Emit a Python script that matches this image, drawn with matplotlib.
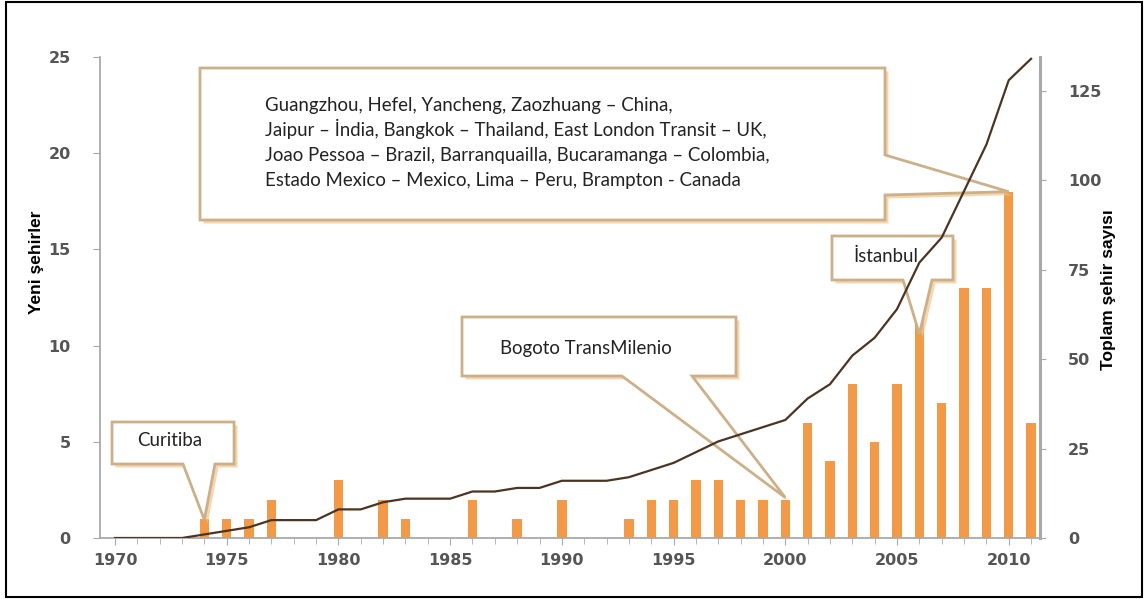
import matplotlib
matplotlib.use("Agg")
import matplotlib.pyplot as plt
import matplotlib.patheffects as pe
from matplotlib.patches import Polygon, Rectangle
from matplotlib.ticker import MultipleLocator

# yearly new BRT cities (bars, left axis)
bar_years = [1974, 1975, 1976, 1977, 1980, 1982, 1983, 1986, 1988, 1990,
             1993, 1994, 1995, 1996, 1997, 1998, 1999, 2000, 2001, 2002,
             2003, 2004, 2005, 2006, 2007, 2008, 2009, 2010, 2011]
new_cities = [1, 1, 1, 2, 3, 2, 1, 2, 1, 2,
              1, 2, 2, 3, 3, 2, 2, 2, 6, 4,
              8, 5, 8, 13, 7, 13, 13, 18, 6]

# cumulative total (line, right axis)
line_years = list(range(1970, 2012))
total_cities = [0, 0, 0, 0, 1, 2, 3, 5, 5, 5,
                8, 8, 10, 11, 11, 11, 13, 13, 14, 14,
                16, 16, 16, 17, 19, 21, 24, 27, 29, 31,
                33, 39, 43, 51, 56, 64, 77, 84, 97, 110,
                128, 134]

note_lines = ["Guangzhou, Hefel, Yancheng, Zaozhuang – China,",
              "Jaipur – İndia, Bangkok – Thailand, East London Transit – UK,",
              "Joao Pessoa – Brazil, Barranquailla, Bucaramanga – Colombia,",
              "Estado Mexico – Mexico, Lima – Peru, Brampton - Canada"]

BAR_COLOR = "#f29a48"
LINE_COLOR = "#4b3422"
EDGE = "#cbb08a"
SPINE = "#a9a9a9"
TICK_TXT = "#555555"
NOTE_FONT = ["Lato", "DejaVu Sans"]
LABEL_FONT = ["Liberation Sans Narrow", "Liberation Sans", "DejaVu Sans"]
NOTE_SIZE = 13.4

fig = plt.figure(figsize=(11.47, 5.99), dpi=100)
fig.patch.set_facecolor("white")
ax = fig.add_axes([100 / 1147, 61 / 599, 940 / 1147, 481 / 599])
ax2 = ax.twinx()

ax.bar(bar_years, new_cities, width=0.42, color=BAR_COLOR, zorder=2)
ax2.plot(line_years, total_cities, color=LINE_COLOR, linewidth=1.6, zorder=5)

ax.set_xlim(1969.33, 2011.4)
ax.set_ylim(0, 25)
ax2.set_ylim(0, 134.5)
ax.xaxis.set_major_locator(MultipleLocator(5))
ax.xaxis.set_minor_locator(MultipleLocator(1))
ax.yaxis.set_major_locator(MultipleLocator(5))
ax2.yaxis.set_major_locator(MultipleLocator(25))

for a in (ax, ax2):
    for s in a.spines.values():
        s.set_visible(False)
ax.spines["left"].set_visible(True)
ax.spines["left"].set_color(SPINE)
ax.spines["left"].set_linewidth(1.3)
ax.spines["bottom"].set_visible(True)
ax.spines["bottom"].set_color(SPINE)
ax.spines["bottom"].set_linewidth(1.3)
ax2.spines["right"].set_visible(True)
ax2.spines["right"].set_color(SPINE)
ax2.spines["right"].set_linewidth(2.2)

ax.tick_params(axis="x", which="major", length=5, color=SPINE, labelsize=11.5,
               labelcolor=TICK_TXT, pad=6)
ax.tick_params(axis="x", which="minor", length=4, color=SPINE)
ax.tick_params(axis="y", length=5, color=SPINE, labelsize=11.5,
               labelcolor=TICK_TXT, pad=16)
ax2.tick_params(axis="y", length=4, color=SPINE, labelsize=11.5,
                labelcolor=TICK_TXT, pad=16)
for lab in ax.get_xticklabels() + ax.get_yticklabels() + ax2.get_yticklabels():
    lab.set_fontweight("bold")

fig.text(36 / 1147, 1 - 262 / 599, "Yeni şehirler", rotation=90, ha="center",
         va="center", fontsize=12.5, fontweight="bold", family=LABEL_FONT)
fig.text(1108 / 1147, 1 - 290 / 599, "Toplam şehir sayısı", rotation=90,
         ha="center", va="center", fontsize=12.5, fontweight="bold",
         family=LABEL_FONT)


def to_axes(x, y):
    disp = ax.transData.transform((x, y))
    return tuple(ax.transAxes.inverted().transform(disp))


def px(x, y):
    # reference pixel -> axes fraction
    return (x - 100) / 940, (538 - y) / 481


def callout(x0, y0, x1, y1, side, b0, b1, tip):
    # box (x0,y0)-(x1,y1) in axes fraction, wedge on 'bottom' or 'right'
    tx, ty = to_axes(*tip)
    if side == "bottom":
        pts = [(x0, y0), (b0, y0), (tx, ty), (b1, y0), (x1, y0),
               (x1, y1), (x0, y1)]
    else:
        pts = [(x0, y0), (x1, y0), (x1, b0), (tx, ty), (x1, b1),
               (x1, y1), (x0, y1)]
    box = Polygon(pts, closed=True, transform=ax.transAxes, facecolor="white",
                  edgecolor=EDGE, linewidth=2, zorder=3, clip_on=False,
                  joinstyle="miter")
    box.set_path_effects([pe.SimplePatchShadow(offset=(2.5, -2.5),
                                               shadow_rgbFace="#f3c48e",
                                               alpha=0.7),
                          pe.Normal()])
    ax.add_patch(box)


callout(0.1064, 0.6611, 0.8351, 0.9771, "right", 0.7131, 0.7963, (2010, 18))
callout(0.0128, 0.1538, 0.1426, 0.2412, "bottom", 0.0883, 0.1223, (1974, 0.95))
callout(0.3851, 0.3368, 0.6766, 0.4595, "bottom", 0.5553, 0.6298, (2000, 2.1))
callout(0.7787, 0.5364, 0.9074, 0.6279, "bottom", 0.8543, 0.8851, (2006, 10.6))

for i, line in enumerate(note_lines):
    ax.text(*px(265, 111 + 25 * i), line, transform=ax.transAxes, ha="left",
            va="baseline", fontsize=NOTE_SIZE, family=NOTE_FONT,
            color="#222222", zorder=4)
ax.text(*px(137, 446), "Curitiba", transform=ax.transAxes, ha="left",
        va="baseline", fontsize=NOTE_SIZE, family=NOTE_FONT, color="#222222",
        zorder=4)
ax.text(*px(500, 354), "Bogoto TransMilenio", transform=ax.transAxes,
        ha="left", va="baseline", fontsize=NOTE_SIZE, family=NOTE_FONT,
        color="#222222", zorder=4)
ax.text(*px(854, 262), "İstanbul", transform=ax.transAxes, ha="left",
        va="baseline", fontsize=NOTE_SIZE, family=NOTE_FONT, color="#222222",
        zorder=4)

fig.patches.append(Rectangle((6 / 1147, 2 / 599), 1136 / 1147, 595 / 599,
                             transform=fig.transFigure, fill=False,
                             edgecolor="black", linewidth=1.5))

fig.savefig("out.png", dpi=100, facecolor="white")
